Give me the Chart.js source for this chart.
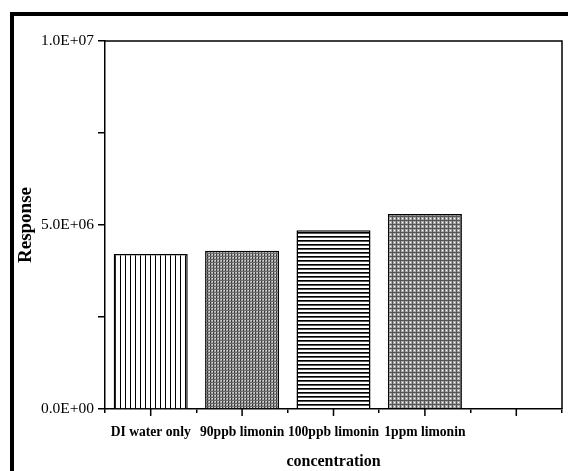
<!DOCTYPE html>
<html>
<head>
<meta charset="utf-8">
<script src="https://cdn.jsdelivr.net/npm/chart.js@4/dist/chart.umd.min.js"></script>
<style>
  html, body { margin: 0; padding: 0; background: #fff; }
  #wrap { width: 568px; height: 471px; }
</style>
</head>
<body>
<div id="wrap"><canvas id="chart" width="568" height="471"></canvas></div>
<script>
// categories (the 5th slot is empty in the original figure)
const categories = ['DI water only', '90ppb limonin', '100ppb limonin', '1ppm limonin', ''];
const responses = [4.21e6, 4.30e6, 4.86e6, 5.30e6, null];
const yMajorTicks = [0, 5e6, 1e7];

const serif = '"Liberation Serif", "Times New Roman", serif';

function formatSci(v) {
    if (v === 0) return '0.0E+00';
    const exp = Math.floor(Math.log10(Math.abs(v)));
    const mant = v / Math.pow(10, exp);
    const e = (exp < 0 ? '-' : '+') + String(Math.abs(exp)).padStart(2, '0');
    return mant.toFixed(1) + 'E' + e;
}

// small bitmap patterns, one per bar
function makePattern(w, h, draw) {
    const c = document.createElement('canvas');
    c.width = w; c.height = h;
    const g = c.getContext('2d');
    draw(g);
    return g.createPattern(c, 'repeat');
}
const ctxMain = document.getElementById('chart').getContext('2d');

const patVertical = makePattern(5, 5, g => {
    g.fillStyle = '#fff'; g.fillRect(0, 0, 5, 5);
    g.fillStyle = '#000'; g.fillRect(0, 0, 1, 5);
});
const patDenseGray = makePattern(3, 3, g => {
    g.fillStyle = '#a8a8a8'; g.fillRect(0, 0, 3, 3);
    g.fillStyle = '#3a3a3a'; g.fillRect(0, 0, 1, 3);
    g.fillStyle = '#6a6a6a'; g.fillRect(0, 1, 3, 1);
    g.fillStyle = '#ddd'; g.fillRect(2, 2, 1, 1);
});
const patHorizontal = makePattern(4, 4, g => {
    g.fillStyle = '#fff'; g.fillRect(0, 0, 4, 4);
    g.fillStyle = '#000'; g.fillRect(0, 0, 4, 1);
    g.fillStyle = '#555'; g.fillRect(0, 1, 4, 1);
});
const patGrid = makePattern(4, 4, g => {
    g.fillStyle = '#a8a8a8'; g.fillRect(0, 0, 4, 4);
    g.fillStyle = '#555'; g.fillRect(0, 0, 4, 1); g.fillRect(0, 0, 1, 4);
    g.fillStyle = '#fff'; g.fillRect(2, 2, 1, 1);
});
const barFills = [patVertical, patDenseGray, patHorizontal, patGrid, '#fff'];

const framePlugin = {
    id: 'frame',
    beforeDraw(chart) {
        const c = chart.ctx;
        c.save();
        c.fillStyle = '#fff';
        c.fillRect(0, 0, chart.width, chart.height);
        // thick outer border (left and top only, the rest is cropped)
        c.fillStyle = '#000';
        c.fillRect(10, 12, 4, chart.height - 12);
        c.fillRect(10, 12, chart.width - 10, 4);
        c.restore();
    },
    afterDraw(chart) {
        const c = chart.ctx;
        const a = chart.chartArea;
        const x = chart.scales.x;
        c.save();
        c.strokeStyle = '#000';
        c.lineWidth = 1.5;
        c.beginPath();
        c.moveTo(a.left, a.top);
        c.lineTo(a.right, a.top);
        c.lineTo(a.right, a.bottom);
        c.stroke();
        // longer ticks at category centres
        c.beginPath();
        categories.forEach((_, i) => {
            const px = x.getPixelForValue(i);
            c.moveTo(px, a.bottom);
            c.lineTo(px, a.bottom + 7);
        });
        c.stroke();
        c.restore();
    }
};

new Chart(ctxMain, {
    type: 'bar',
    data: {
        labels: categories,
        datasets: [{
            data: responses,
            backgroundColor: barFills,
            borderColor: '#000',
            borderWidth: 1.5,
            barPercentage: 0.81,
            categoryPercentage: 1
        }]
    },
    options: {
        responsive: false,
        animation: false,
        layout: { padding: { left: 15, top: 41, right: 6, bottom: 0 } },
        plugins: { legend: { display: false }, tooltip: { enabled: false } },
        scales: {
            x: {
                offset: true,
                grid: {
                    offset: true,
                    drawOnChartArea: false,
                    color: '#000',
                    lineWidth: 1.5,
                    tickLength: 4
                },
                border: { color: '#000', width: 1.5 },
                ticks: {
                    color: '#000',
                    font: { family: serif, size: 13.6, weight: 'bold' },
                    padding: 11,
                    maxRotation: 0,
                    minRotation: 0,
                    autoSkip: false
                },
                title: {
                    display: true,
                    text: 'concentration',
                    color: '#000',
                    font: { family: serif, size: 16, weight: 'bold' },
                    padding: 0
                },
                afterFit(scale) { scale.height = 62; }
            },
            y: {
                min: 0,
                max: 1e7,
                grid: {
                    drawOnChartArea: false,
                    color: '#000',
                    lineWidth: 1.5,
                    tickLength: 7
                },
                border: { color: '#000', width: 1.5 },
                ticks: {
                    stepSize: 2.5e6,
                    color: '#000',
                    font: { family: serif, size: 15.5 },
                    padding: 4,
                    callback: v => yMajorTicks.includes(v) ? formatSci(v) : ''
                },
                title: {
                    display: true,
                    text: 'Response',
                    color: '#000',
                    font: { family: serif, size: 19, weight: 'bold' },
                    padding: 0
                },
                afterFit(scale) { scale.width = 90; }
            }
        }
    },
    plugins: [framePlugin]
});
</script>
</body>
</html>
